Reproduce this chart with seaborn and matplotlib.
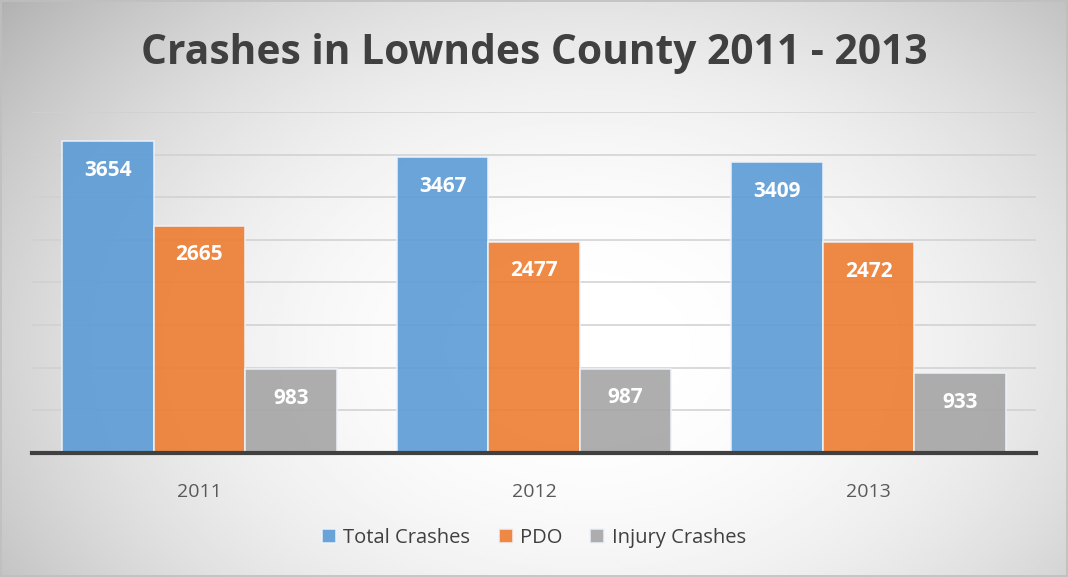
import numpy as np
import pandas as pd
import seaborn as sns
import matplotlib.pyplot as plt
from matplotlib.patches import Rectangle

# Data
years = ["2011", "2012", "2013"]
total_crashes = [3654, 3467, 3409]
pdo = [2665, 2477, 2472]
injury_crashes = [983, 987, 933]
series_names = ["Total Crashes", "PDO", "Injury Crashes"]

df = pd.DataFrame({
    "Year": years * 3,
    "Series": [s for s in series_names for _ in years],
    "Count": total_crashes + pdo + injury_crashes,
})

palette = {"Total Crashes": "#5B9BD5", "PDO": "#ED7D31", "Injury Crashes": "#A5A5A5"}

sns.set_style("white")
plt.rcParams["font.family"] = ["Open Sans", "DejaVu Sans"]

fig = plt.figure(figsize=(10.68, 5.77), dpi=100)

# Radial gradient background: white centre, grey edges
bg = fig.add_axes([0, 0, 1, 1], zorder=-10)
gx, gy = np.meshgrid(np.linspace(0, 1, 400), np.linspace(0, 1, 220))
r = np.sqrt(((gx - 0.55) / 0.6) ** 2 + ((gy - 0.4) / 0.8) ** 2)
shade = 1 - 0.21 * np.clip(r, 0, 1.2) ** 2.2
bg.imshow(shade, cmap="gray", vmin=0, vmax=1, extent=[0, 1, 0, 1],
          aspect="auto", origin="lower", interpolation="bilinear")
bg.axis("off")
fig.patches.append(Rectangle((0.001, 0.002), 0.998, 0.996, transform=fig.transFigure,
                             fill=False, edgecolor="#BFBFBF", linewidth=1.2))

ax = fig.add_axes([0.030, 0.215, 0.940, 0.591])
ax.set_facecolor("none")

sns.barplot(data=df, x="Year", y="Count", hue="Series", palette=palette,
            saturation=1, width=0.82, alpha=0.9, edgecolor="#EEF3F9", linewidth=1.2,
            errorbar=None, ax=ax, zorder=3)

ax.set_ylim(0, 4000)
ax.set_xlim(-0.5, 2.5)
ax.set_yticks(range(0, 4001, 500))
ax.yaxis.grid(True, color="#D0D0D0", linewidth=1.1, zorder=0)
ax.set_axisbelow(True)
ax.tick_params(axis="y", left=False, labelleft=False)
ax.tick_params(axis="x", bottom=False, labelsize=14, labelcolor="#595959", pad=18)
ax.set_xlabel("")
ax.set_ylabel("")
for side in ["top", "right", "left"]:
    ax.spines[side].set_visible(False)
ax.spines["bottom"].set_color("#404040")
ax.spines["bottom"].set_linewidth(3)
ax.spines["bottom"].set_zorder(5)

# Value labels inside bar tops
for p in ax.patches:
    h = p.get_height()
    if h > 0:
        ax.annotate(f"{int(h)}", (p.get_x() + p.get_width() / 2, h),
                    xytext=(0, -29), textcoords="offset pixels",
                    ha="center", va="center", fontsize=15, fontweight="bold",
                    color="white", zorder=6)

sns.move_legend(ax, "center", bbox_to_anchor=(0.5, -0.25), ncol=3, frameon=False,
                title=None, fontsize=14.5, handlelength=0.7, handleheight=0.7,
                handletextpad=0.35, columnspacing=1.4)
for t in ax.get_legend().get_texts():
    t.set_color("#404040")

fig.text(0.5, 0.907, "Crashes in Lowndes County 2011 - 2013", ha="center", va="center",
         fontsize=29.3, fontweight="bold", color="#404040")

fig.savefig("out.png", dpi=100)
